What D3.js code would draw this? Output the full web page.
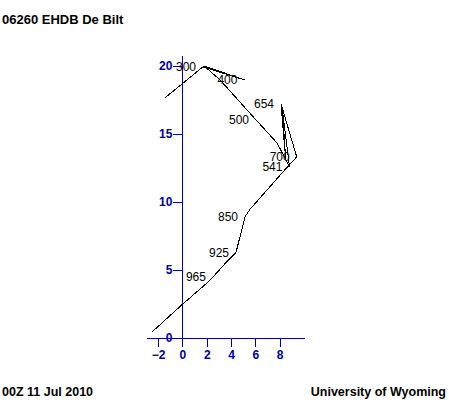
<!DOCTYPE html>
<html>
<head>
<meta charset="utf-8">
<script src="https://cdn.jsdelivr.net/npm/d3@7"></script>
<style>
  body { margin: 0; background: #fff; }
  svg { display: block; font-family: "Liberation Sans", Arial, sans-serif; }
</style>
</head>
<body>
<div id="wrapper"></div>
<script>
// hodograph trace, surface upward (knots, u east / v north)
const hodoU = [-2.53, -0.06, 1.99, 2.51, 2.92, 3.64, 4.41, 5.15, 5.56, 8.27, 9.40, 8.11, 8.50, 8.23, 8.80, 7.78, 6.05, 3.09, 1.77, 5.10, 1.69, -1.44];
const hodoV = [0.42, 2.43, 4.02, 4.49, 4.88, 5.61, 6.30, 8.92, 9.46, 12.21, 13.31, 17.21, 13.05, 16.70, 12.60, 14.34, 16.03, 18.97, 20.0, 18.97, 19.93, 17.65];
// pressure label for each point ('' = not labelled)
const hodoP = ['', '', '', '965', '', '', '925', '850', '', '', '700', '654', '', '', '541', '', '500', '', '', '400', '300', ''];

const xTicks = [-2, 0, 2, 4, 6, 8];
const yTicks = [0, 5, 10, 15, 20];

const titleText = '06260 EHDB De Bilt';
const timeText = '00Z 11 Jul 2010';
const sourceText = 'University of Wyoming';

const width = 449, height = 405;
const axisColor = '#00009c';

let svg = d3.select('#wrapper').append('svg')
    .attr('width', width)
    .attr('height', height);

let x = d3.scaleLinear().domain([-3, 10]).range([146, 304]);
let y = d3.scaleLinear().domain([0, 20.8]).range([338, 55]);

// x axis along v = 0
let xAxis = d3.axisBottom(x)
    .tickValues(xTicks)
    .tickSize(9)
    .tickPadding(3)
    .tickSizeOuter(0);

let gx = svg.append('g')
    .attr('transform', 'translate(0,' + y(0) + ')')
    .call(xAxis);

// y axis along u = 0
let yAxis = d3.axisLeft(y)
    .tickValues(yTicks)
    .tickSize(9)
    .tickPadding(1)
    .tickSizeOuter(0);

let gy = svg.append('g')
    .attr('transform', 'translate(' + x(0) + ',0)')
    .call(yAxis);

[gx, gy].forEach(function (g) {
    g.selectAll('path, line')
        .attr('stroke', axisColor)
        .attr('shape-rendering', 'crispEdges');
    g.selectAll('text')
        .attr('fill', axisColor)
        .attr('font-size', 12)
        .attr('font-weight', 'bold')
        .attr('font-family', '"Liberation Sans", Arial, sans-serif');
});

let points = hodoU.map(function (u, i) { return [u, hodoV[i], hodoP[i]]; });

let line = d3.line()
    .x(function (d) { return x(d[0]); })
    .y(function (d) { return y(d[1]); });

svg.append('path')
    .datum(points)
    .attr('d', line)
    .attr('fill', 'none')
    .attr('stroke', 'black')
    .attr('stroke-width', 1)
    .attr('shape-rendering', 'crispEdges');

// pressure level labels, left of their point
svg.append('g').selectAll('text')
    .data(points.filter(function (d) { return d[2] !== ''; }))
    .enter().append('text')
    .attr('x', function (d) { return x(d[0]) - 7; })
    .attr('y', function (d) { return y(d[1]); })
    .attr('dy', '0.36em')
    .attr('text-anchor', 'end')
    .attr('font-size', 12)
    .attr('fill', 'black')
    .text(function (d) { return d[2]; });

svg.append('text')
    .attr('x', 2).attr('y', 24)
    .attr('font-size', 13).attr('font-weight', 'bold')
    .text(titleText);

svg.append('text')
    .attr('x', 2).attr('y', 396)
    .attr('font-size', 12.5).attr('font-weight', 'bold')
    .text(timeText);

svg.append('text')
    .attr('x', 446).attr('y', 396)
    .attr('text-anchor', 'end')
    .attr('font-size', 12.5).attr('font-weight', 'bold')
    .text(sourceText);
</script>
</body>
</html>
